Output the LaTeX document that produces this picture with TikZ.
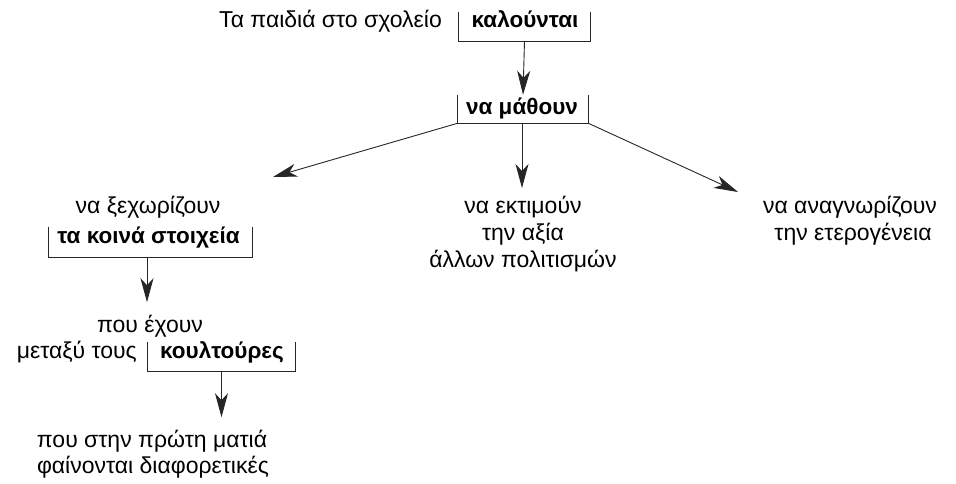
\documentclass[tikz,border=0pt]{standalone}
\usepackage{fontspec}
\setmainfont{Liberation Sans}
\usetikzlibrary{arrows.meta}
\tikzset{
  txt/.style={anchor=base, inner sep=0pt, font=\fontsize{23}{26}\selectfont},
  btxt/.style={txt, font=\fontsize{22.5}{26}\selectfont\bfseries},
  brk/.style={draw=none, inner sep=0pt, minimum width=#1},
  brkline/.style={line width=0.9pt, draw=black!85},
  arr/.style={line width=0.9pt, draw=black!85, -{Stealth[length=24pt, width=13pt, inset=7pt]}},
}
\begin{document}
\begin{tikzpicture}[x=1pt, y=-1pt]
\path[use as bounding box] (0,0) rectangle (956,483);

% top row
\node[txt, anchor=base east] (t1) at (442,27) {Τα παιδιά στο σχολείο};
\node[btxt] (kal) at (525,27) {καλούνται};
\node[brk=131pt, minimum height=29pt] (kalbox) at (524.5,26.5) {};
\draw[brkline] (kalbox.north west) |- (kalbox.south east) -- (kalbox.north east);

% na mathoun
\node[btxt] (math) at (522,114) {να μάθουν};
\node[brk=130pt, minimum height=28pt] (mathbox) at (523,109) {};
\draw[brkline] (mathbox.north west) |- (mathbox.south east) -- (mathbox.north east);
\draw[arr] (kalbox.south) -- (mathbox.north);

% left branch
\node[txt] (xex) at (148,213) {να ξεχωρίζουν};
\node[btxt] (koina) at (148.5,243) {τα κοινά στοιχεία};
\node[brk=203pt, minimum height=30pt] (koinabox) at (150.5,242) {};
\draw[brkline] (koinabox.north west) |- (koinabox.south east) -- (koinabox.north east);

\node[txt] (exoun) at (150,332) {που έχουν};
\node[txt, anchor=base east] (metaxy) at (137,358) {μεταξύ τους};
\node[btxt] (koult) at (222,358) {κουλτούρες};
\node[brk=147pt, minimum height=29pt] (koultbox) at (221.5,356.5) {};
\draw[brkline] (koultbox.north west) |- (koultbox.south east) -- (koultbox.north east);

\node[txt] (prwti) at (152,447) {που στην πρώτη ματιά};
\node[txt] (fain) at (153,473) {φαίνονται διαφορετικές};

% middle branch
\node[txt] (ekt) at (523,213) {να εκτιμούν};
\node[txt] (axia) at (523,240) {την αξία};
\node[txt] (allwn) at (523,267) {άλλων πολιτισμών};

% right branch
\node[txt] (anag) at (850,213) {να αναγνωρίζουν};
\node[txt] (eter) at (853,240) {την ετερογένεια};

% connectors
\coordinate (tipL) at (273,177);
\coordinate (tipM) at (522,188);
\coordinate (tipR) at (738,192);
\draw[arr] (mathbox.south west) -- (tipL);
\draw[arr] (mathbox.south -| tipM) -- (tipM);
\draw[arr] (mathbox.south east) -- (tipR);
\draw[arr] ([xshift=-3.5pt]koinabox.south) -- ([xshift=-3.5pt,yshift=-45pt]koinabox.south);
\draw[arr] (koultbox.south) -- ([yshift=-46pt]koultbox.south);
\end{tikzpicture}
\end{document}
